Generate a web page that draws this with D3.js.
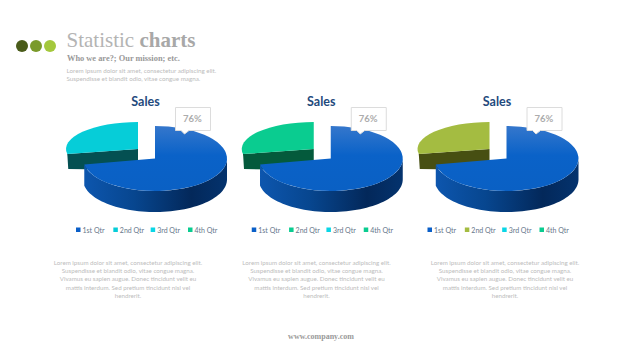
<!DOCTYPE html>
<html>
<head>
<meta charset="utf-8">
<script src="https://cdn.jsdelivr.net/npm/d3@7"></script>
<style>
  html, body { margin: 0; padding: 0; background: #fff; }
  svg { display: block; }
  .serif { font-family: 'Liberation Serif', serif; }
  .sans { font-family: Lato, 'Noto Sans', sans-serif; }
</style>
</head>
<body>
<div id="chart"></div>
<script>
const quarters = ['1st Qtr', '2nd Qtr', '3rd Qtr', '4th Qtr'];
const sales = [72, 28];
const calloutLabel = '76%';
const chartTitle = 'Sales';
const accentColors = ['#06cdd8', '#0acc90', '#a4bc41'];
const accentDark = ['#045052', '#045a3c', '#474f12'];
const dotColors = ['#4a5c1a', '#7a9a2a', '#a4c83c'];
const introLines = ['Lorem ipsum dolor sit amet, consectetur adipiscing elit.',
  'Suspendisse et blandit odio, vitae congue magna.'];
const bodyLines = ['Lorem ipsum dolor sit amet, consectetur adipiscing elit.',
  'Suspendisse et blandit odio, vitae congue magna.',
  'Vivamus eu sapien augue. Donec tincidunt velit eu',
  'mattis interdum. Sed pretium tincidunt nisl vel',
  'hendrerit.'];

const width = 640;
const height = 360;
const svg = d3.select('#chart').append('svg').attr('width', width).attr('height', height);
const defs = svg.append('defs');

// gradients for the big slice
const topGrad = defs.append('linearGradient').attr('id', 'topFace')
  .attr('x1', 0).attr('y1', 0).attr('x2', 0).attr('y2', 1);
topGrad.append('stop').attr('offset', '0%').attr('stop-color', '#3577cc');
topGrad.append('stop').attr('offset', '45%').attr('stop-color', '#0a62c8');
topGrad.append('stop').attr('offset', '100%').attr('stop-color', '#0a60c4');

const sideGrad = defs.append('linearGradient').attr('id', 'sideFace')
  .attr('x1', 0).attr('y1', 0).attr('x2', 1).attr('y2', 0);
sideGrad.append('stop').attr('offset', '0%').attr('stop-color', '#0d56ae');
sideGrad.append('stop').attr('offset', '35%').attr('stop-color', '#07468f');
sideGrad.append('stop').attr('offset', '75%').attr('stop-color', '#03285a');
sideGrad.append('stop').attr('offset', '100%').attr('stop-color', '#04336e');

// header
svg.selectAll('circle.dot').data(dotColors).join('circle')
  .attr('class', 'dot')
  .attr('cx', (d, i) => 22 + i * 14).attr('cy', 46).attr('r', 6)
  .attr('fill', d => d);

const title = svg.append('text').attr('class', 'serif')
  .attr('x', 66.5).attr('y', 47).attr('font-size', 21).attr('fill', '#b4b4b4');
title.append('tspan').text('Statistic ');
title.append('tspan').attr('font-weight', 'bold').attr('fill', '#a8a8a8').text('charts');

svg.append('text').attr('class', 'serif')
  .attr('x', 67).attr('y', 60.5).attr('font-size', 8.4).attr('font-weight', 'bold')
  .attr('fill', '#999').text('Who we are?; Our mission; etc.');

svg.selectAll('text.intro').data(introLines).join('text')
  .attr('class', 'intro sans')
  .attr('x', 66.5).attr('y', (d, i) => 72.5 + i * 8)
  .attr('font-size', 6.25).attr('fill', '#bcbcbc').text(d => d);

const pie = d3.pie().sort(null).startAngle(0).endAngle(2 * Math.PI);
const rx = 72, ry = 32.5, depth = 21;
const arc = d3.arc().innerRadius(0).outerRadius(rx);
const yFactor = ry / rx;
const line = d3.line();

// turn a pie angle into a point on the squashed disc
function onDisc(a, cx, cy, rotY) {
  return [cx + Math.sin(a) * rx, cy - Math.cos(a) * rotY];
}

function drawChart(g, i) {
  const slices = pie(sales);
  const big = slices[0], small = slices[1];
  const cx = 155, cy = 158.5;
  const ex = -17, ey = -9.5; // explode offset of the 2nd slice

  // exploded slice cut face, sits behind the big slice
  const p0 = [cx + ex, cy + ey];
  const p1 = onDisc(small.startAngle, p0[0], p0[1], 27);
  g.append('path')
    .attr('d', line([p0, p1, [p1[0] + 1, p1[1] + 15], [p0[0], p0[1] + 21]]) + 'Z')
    .attr('fill', accentDark[i]);

  // exploded slice top
  g.append('path')
    .attr('transform', `translate(${p0[0]},${p0[1]}) scale(1,${27 / rx})`)
    .attr('d', arc(small))
    .attr('fill', accentColors[i]);

  // big slice wall, only the front facing part of the rim
  const rim = d3.range(Math.PI / 2, big.endAngle + 0.001, 0.05).concat([big.endAngle]);
  const upper = rim.map(a => onDisc(a, cx, cy, ry));
  const lower = rim.map(a => onDisc(a, cx, cy + depth, ry)).reverse();
  g.append('path')
    .attr('d', line(upper.concat(lower)) + 'Z')
    .attr('fill', 'url(#sideFace)');

  // big slice top
  g.append('path')
    .attr('transform', `translate(${cx},${cy}) scale(1,${yFactor})`)
    .attr('d', arc(big))
    .attr('fill', 'url(#topFace)');

  // callout
  g.append('path')
    .attr('d', line([[175.5, 107.5], [210.5, 107.5], [210.5, 130.5], [189, 130.5],
      [184.5, 134], [181, 130.5], [175.5, 130.5]]) + 'Z')
    .attr('fill', '#fff').attr('stroke', '#dcdcdc').attr('stroke-width', 1);
  g.append('text').attr('class', 'sans')
    .attr('x', 192.5).attr('y', 122).attr('text-anchor', 'middle')
    .attr('font-size', 9.5).attr('font-weight', 'bold').attr('fill', '#acacac')
    .text(calloutLabel);

  g.append('text').attr('class', 'sans')
    .attr('x', 145.5).attr('y', 106).attr('text-anchor', 'middle')
    .attr('font-size', 12.5).attr('font-weight', 'bold').attr('fill', '#1f4a7d')
    .text(chartTitle);

  // legend
  const legendX = d3.scalePoint().domain(quarters).range([76, 188]);
  const legendColor = d3.scaleOrdinal().domain(quarters)
    .range(['#0a5fc8', accentColors[i], '#0ad6e6', '#0acc90']);
  const item = g.selectAll('g.item').data(quarters).join('g')
    .attr('class', 'item')
    .attr('transform', d => `translate(${legendX(d)},230)`);
  item.append('rect').attr('x', 0).attr('y', -2.5).attr('width', 4.5).attr('height', 4.5)
    .attr('fill', d => legendColor(d));
  item.append('text').attr('class', 'sans')
    .attr('x', 6.5).attr('y', 2.5).attr('font-size', 7).attr('fill', '#66768a').text(d => d);
}

const chartOffsets = d3.scalePoint().domain(d3.range(3)).range([0, 351.5]);
svg.selectAll('g.pie').data(d3.range(3)).join('g')
  .attr('class', 'pie')
  .attr('transform', d => `translate(${chartOffsets(d)},0)`)
  .each(function (d) { drawChart(d3.select(this), d); });

// captions under the charts
const captionX = d3.scalePoint().domain(d3.range(3)).range([128, 505]);
captionX.domain().forEach(k => {
  svg.selectAll(`text.cap${k}`).data(bodyLines).join('text')
    .attr('class', `cap${k} sans`)
    .attr('x', captionX(k)).attr('y', (d, i) => 265 + i * 8.2)
    .attr('text-anchor', 'middle').attr('font-size', 6.2).attr('fill', '#bcbcbc')
    .text(d => d);
});

svg.append('text').attr('class', 'serif')
  .attr('x', 321).attr('y', 339).attr('text-anchor', 'middle')
  .attr('font-size', 8).attr('font-weight', 'bold').attr('fill', '#999')
  .text('www.company.com');
</script>
</body>
</html>
